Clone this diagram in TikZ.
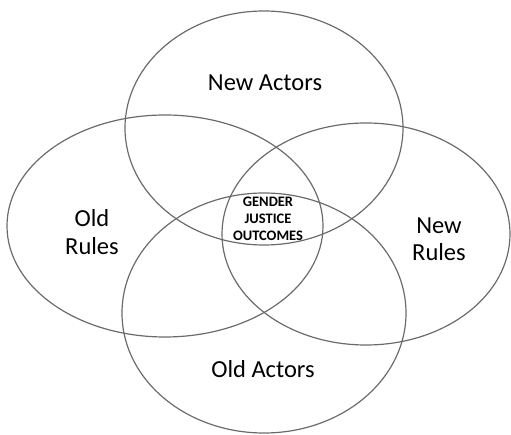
\documentclass[tikz,border=0pt]{standalone}
\usepackage{fontspec}
\setmainfont{Carlito}
\usepackage{xcolor}
\definecolor{ringgray}{gray}{0.42}
\usepackage{tikz}
\usetikzlibrary{shapes.geometric,positioning}

\begin{document}
\begin{tikzpicture}[
  x=1pt,y=-1pt,
  ring/.style={ellipse,draw=ringgray,line width=1.2pt,inner sep=0pt},
  label/.style={align=center,font=\fontsize{24.5}{27.5}\selectfont},
  core/.style={align=center,font=\fontsize{14.5}{17}\selectfont\bfseries},
]
  \useasboundingbox (0,0) rectangle (511,435);

  % the four overlapping sets
  \node[ring,minimum width=278pt,minimum height=234pt] (newact)  at (264,128) {};
  \node[ring,minimum width=316pt,minimum height=222pt] (oldrule) at (165,226) {};
  \node[ring,minimum width=288pt,minimum height=222pt] (newrule) at (366,234) {};
  \node[ring,minimum width=284pt,minimum height=240pt] (oldact)  at (264,313) {};

  \node[label] (tnewact)  at (265,83)  {New Actors};
  \node[label] (toldrule) at (92,232)  {Old\\Rules};
  \node[label] (tnewrule) at (439,239) {New\\Rules};
  \node[label] (toldact)  at (263,369) {Old Actors};

  % overlap in the middle
  \node[core] (outcome) at (268,219) {GENDER\\JUSTICE\\OUTCOMES};
\end{tikzpicture}
\end{document}
